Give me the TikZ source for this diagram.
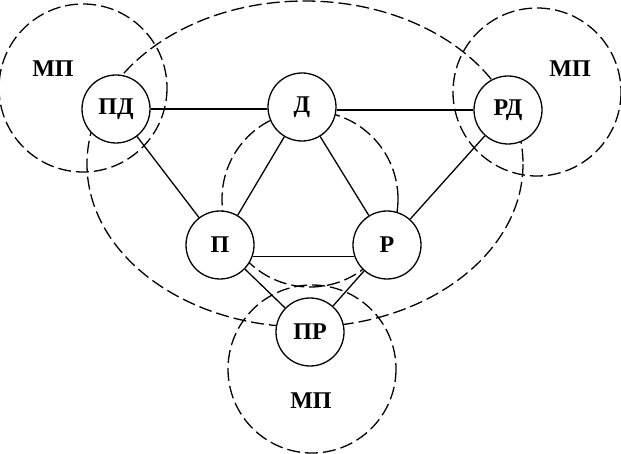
\documentclass[tikz,border=0pt]{standalone}
\usepackage{fontspec}
\setmainfont{Liberation Serif}
\begin{document}
\begin{tikzpicture}[x=1pt,y=-1pt,
  nd/.style={circle,draw,fill=white,line width=1.3pt,minimum size=68pt,inner sep=0pt,font=\fontsize{24}{26}\selectfont\bfseries},
  lbl/.style={font=\fontsize{24}{26}\selectfont\bfseries},
  zone/.style={line width=1.3pt,dash pattern=on 13pt off 5pt},
  link/.style={line width=1.3pt}]
\useasboundingbox (0,0) rectangle (621,454);
% dashed zones
\draw[zone] (305,164) ellipse [x radius=218, y radius=163];
\draw[zone] (310,199) circle [radius=88];
\draw[zone] (83,88) circle [radius=84];
\draw[zone] (537,92) circle [radius=84];
\draw[zone] (312,369) circle [radius=84];
% nodes
\node[nd] (PD) at (116,109) {ПД};
\node[nd] (D)  at (302,107) {Д};
\node[nd] (RD) at (508,110) {РД};
\node[nd] (P)  at (220,245) {П};
\node[nd] (R)  at (387,245) {Р};
\node[nd] (PR) at (310,332) {ПР};
% links
\draw[link] (PD.east) -- (D.west |- PD.east);
\draw[link] (D.east |- RD.west) -- (RD.west);
\draw[link] (PD) -- (P);
\draw[link] (D) -- (P);
\draw[link] (D) -- (R);
\draw[link] (RD) -- (R);
\draw[link] (P.-20) -- (R.200);
\draw[link] (P) -- (PR);
\draw[link] (R) -- (PR);
% labels
\node[lbl] (m1) at (53,69) {МП};
\node[lbl] (m2) at (570,69) {МП};
\node[lbl] (m3) at (311,401) {МП};
\end{tikzpicture}
\end{document}
